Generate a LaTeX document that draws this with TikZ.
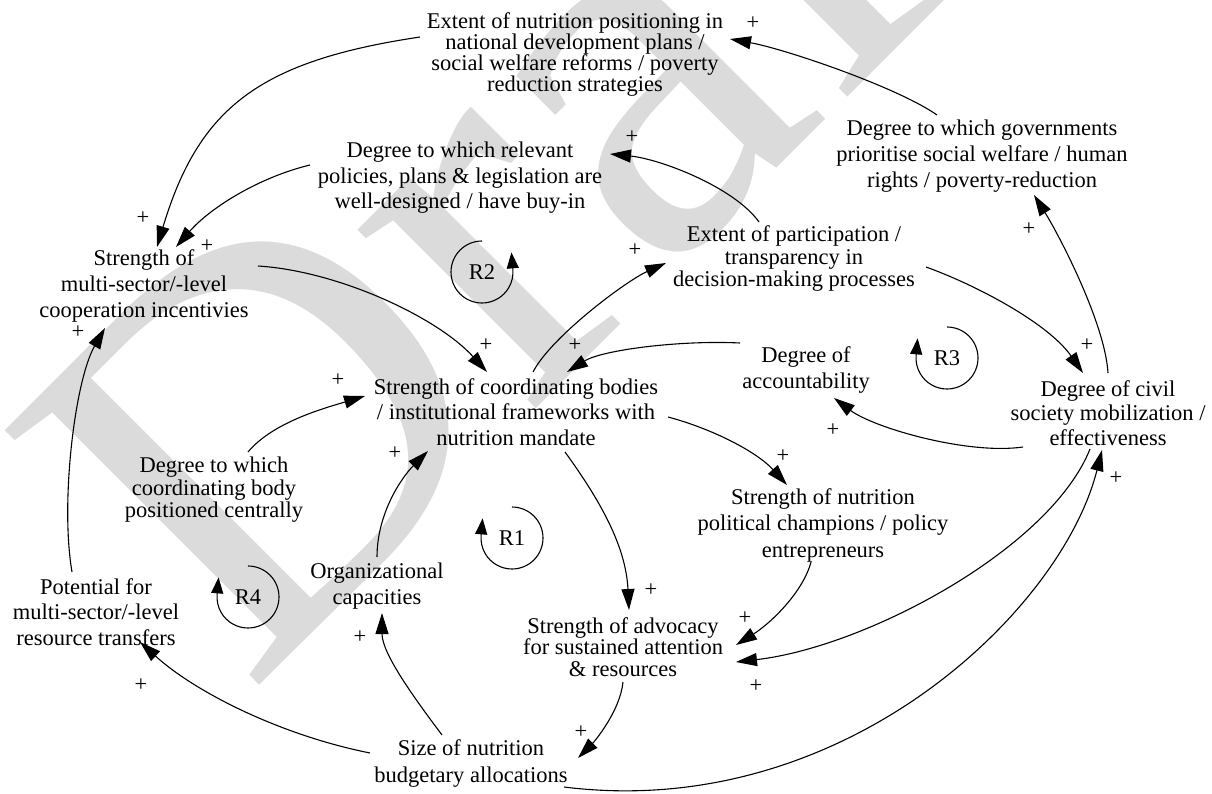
\documentclass[tikz,border=0pt]{standalone}
\usepackage{fontspec}
\setmainfont{Liberation Serif}
\usetikzlibrary{arrows.meta}
\begin{document}
\begin{tikzpicture}[x=1pt,y=1pt,
  lbl/.style={align=center, inner sep=0pt, font=\fontsize{22.5}{#1}\selectfont},
  lbl/.default=24.5,
  pl/.style={inner sep=0pt, font=\fontsize{22.5}{24}\selectfont},
  link/.style={line width=1.1pt, -{Triangle[length=21pt,width=13pt]}},
  loopar/.style={line width=1.1pt, -{Triangle[length=16pt,width=12pt]}},
  wmark/.style={inner sep=0pt, text=black!14, font=\fontsize{550}{550}\selectfont}
]
\useasboundingbox (0,0) rectangle (1212,-794);
% watermark
\node[wmark, rotate=45, anchor=base west] (wm) at (248,-697) {Draft};

% nodes
\node[lbl=21] (ext) at (575,-54.5) {Extent of nutrition positioning in\\national development plans /\\social welfare reforms / poverty\\reduction strategies};
\node[lbl=25.5] (drp) at (460,-178) {Degree to which relevant\\policies, plans \& legislation are\\well-designed / have buy-in};
\node[lbl=26] (dgp) at (982,-156) {Degree to which governments\\prioritise social welfare / human\\rights / poverty-reduction};
\node[lbl=26] (smc) at (144,-286) {Strength of\\multi-sector/-level\\cooperation incentivies};
\node[lbl=22.5] (ept) at (794,-259) {Extent of participation /\\transparency in\\decision-making processes};
\node[lbl=25.5] (scb) at (516,-412) {Strength of coordinating bodies\\/ institutional frameworks with\\nutrition mandate};
\node[lbl=26] (acc) at (806,-370) {Degree of\\accountability};
\node[lbl=24.5] (dcs) at (1108,-413) {Degree of civil\\society mobilization /\\effectiveness};
\node[lbl=22.5] (dcb) at (214,-490) {Degree to which\\coordinating body\\positioned centrally};
\node[lbl=26] (org) at (377,-586) {Organizational\\capacities};
\node[lbl=25.5] (pot) at (96,-612) {Potential for\\multi-sector/-level\\resource transfers};
\node[lbl=26.5] (snpc) at (823,-525) {Strength of nutrition\\political champions / policy\\entrepreneurs};
\node[lbl=21.5] (sas) at (623,-647) {Strength of advocacy\\for sustained attention\\\& resources};
\node[lbl=27] (snb) at (471,-763) {Size of nutrition\\budgetary allocations};

% loops
\node[lbl] (r1) at (512,-538) {R1};
\node[lbl] (r2) at (482,-272) {R2};
\node[lbl] (r3) at (947,-358) {R3};
\node[lbl] (r4) at (248,-597) {R4};
\draw[loopar] ([yshift=31pt]r2.center) arc[start angle=90,end angle=365,radius=31] -- ++(95:17);
\draw[loopar] ([yshift=31pt]r1.center) arc[start angle=90,end angle=-185,radius=31] -- ++(85:17);
\draw[loopar] ([yshift=31pt]r3.center) arc[start angle=90,end angle=-185,radius=31] -- ++(85:17);
\draw[loopar] ([yshift=31pt]r4.center) arc[start angle=90,end angle=-185,radius=31] -- ++(85:17);

% links
\draw[link] ([shift={(-155,17.5)}]ext.center) .. controls +(-160,-24) and +(42,140) .. ([shift={(13,39)}]smc.center);
\draw[link] ([shift={(-150,13)}]drp.center) .. controls +(-50,-12) and +(35,40) .. ([shift={(32,39)}]smc.center);
\draw[link] ([shift={(114,20)}]smc.center) .. controls +(80,-5) and +(-50,55) .. ([shift={(-29,40)}]scb.center);
\draw[link] ([shift={(17,40)}]scb.center) .. controls +(18,35) and +(-40,-18) .. ([shift={(-128,-4)}]ept.center);
\draw[link] ([shift={(-35,37)}]ept.center) .. controls +(-25,35) and +(50,-5) .. ([shift={(150,24)}]drp.center);
\draw[link] ([shift={(-45,41)}]dgp.center) .. controls +(-40,28) and +(55,-10) .. ([shift={(155,15.5)}]ext.center);
\draw[link] ([shift={(0,40)}]dcs.center) .. controls +(-3,50) and +(25,-40) .. ([shift={(52,-39)}]dgp.center);
\draw[link] ([shift={(132,-8)}]ept.center) .. controls +(50,-18) and +(-35,50) .. ([shift={(-25,40)}]dcs.center);
\draw[link] ([shift={(-66,27)}]acc.center) .. controls +(-60,3) and +(35,22) .. ([shift={(51,40)}]scb.center);
\draw[link] ([shift={(-85,-34)}]dcs.center) .. controls +(-55,-8) and +(40,-30) .. ([shift={(28,-28)}]acc.center);
\draw[link] ([shift={(152,-5)}]scb.center) .. controls +(45,-12) and +(-30,33) .. ([shift={(-36,40)}]snpc.center);
\draw[link] ([shift={(49,-40)}]scb.center) .. controls +(40,-55) and +(-3,60) .. ([shift={(6,37)}]sas.center);
\draw[link] ([shift={(-12,-37)}]snpc.center) .. controls +(-8,-30) and +(35,22) .. ([shift={(113,2)}]sas.center);
\draw[link] ([shift={(-18,-36)}]dcs.center) .. controls +(-40,-100) and +(130,15) .. ([shift={(113,-15)}]sas.center);
\draw[link] ([shift={(93,-24)}]snb.center) .. controls +(280,-35) and +(-40,-160) .. ([shift={(-6,-37)}]dcs.center);
\draw[link] ([shift={(0,-35)}]sas.center) .. controls +(-3,-30) and +(15,15) .. ([shift={(107,5)}]snb.center);
\draw[link] ([shift={(-29,28)}]snb.center) .. controls +(-30,40) and +(0,-40) .. ([shift={(5,-27)}]org.center);
\draw[link] ([shift={(-101,10)}]snb.center) .. controls +(-90,18) and +(55,-50) .. ([shift={(44,-30)}]pot.center);
\draw[link] ([shift={(-24,40)}]pot.center) .. controls +(-12,70) and +(-30,-52) .. ([shift={(-39,-42)}]smc.center);
\draw[link] ([shift={(34,38)}]dcb.center) .. controls +(25,30) and +(-40,-12) .. ([shift={(-151,16)}]scb.center);
\draw[link] ([shift={(0,29)}]org.center) .. controls +(0,45) and +(-25,-25) .. ([shift={(-88,-39)}]scb.center);

% polarity signs
\node[pl] (p1) at (143,-218) {+};
\node[pl] (p2) at (207,-246) {+};
\node[pl] (p3) at (78,-332) {+};
\node[pl] (p4) at (486,-345) {+};
\node[pl] (p5) at (575,-345) {+};
\node[pl] (p6) at (338,-380) {+};
\node[pl] (p7) at (395,-453) {+};
\node[pl] (p8) at (635,-250) {+};
\node[pl] (p9) at (632,-137) {+};
\node[pl] (p10) at (753,-23) {+};
\node[pl] (p11) at (1029,-229) {+};
\node[pl] (p12) at (1087,-345) {+};
\node[pl] (p13) at (833,-430) {+};
\node[pl] (p14) at (783,-456) {+};
\node[pl] (p15) at (651,-590) {+};
\node[pl] (p16) at (745,-618) {+};
\node[pl] (p17) at (756,-686) {+};
\node[pl] (p18) at (1116,-478) {+};
\node[pl] (p19) at (581,-732) {+};
\node[pl] (p20) at (360,-637) {+};
\node[pl] (p21) at (141,-685) {+};
\end{tikzpicture}
\end{document}
